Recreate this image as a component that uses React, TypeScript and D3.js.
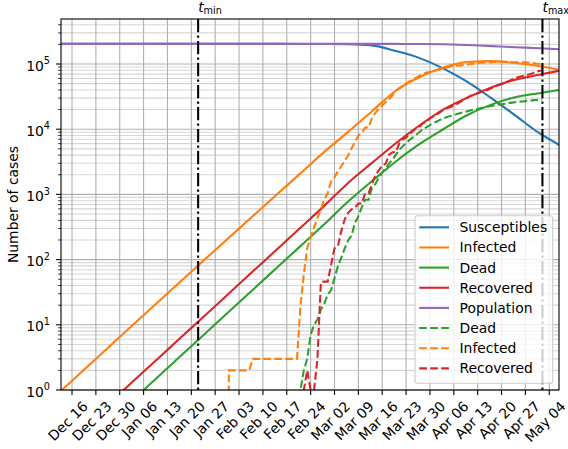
import React, { useEffect, useRef } from 'react';
import * as d3 from 'd3';

// ---------- model curves (weekly samples) ----------
const modelDates = ['2019-12-12','2019-12-13','2019-12-20','2019-12-27','2020-01-03','2020-01-10','2020-01-17','2020-01-24','2020-01-31','2020-02-07','2020-02-14','2020-02-21','2020-02-28','2020-03-06','2020-03-13','2020-03-20','2020-03-27','2020-04-03','2020-04-10','2020-04-17','2020-04-24','2020-05-01','2020-05-07'];
const susceptibles = [203500,203500,203500,203500,203500,203500,203500,203500,203500,203400,203300,203000,202300,200800,193000,158000,123000,85000,53000,29900,16300,8750,5720];
const infectedModel = [0.9,1.0,2.16,4.67,10.1,21.8,47.1,101,216,462,986,2100,4490,9100,18900,38900,63200,88400,107000,110800,103500,92900,80900];
const deadModel = [0.063,0.0703,0.152,0.33,0.716,1.55,3.37,7.3,15.8,34.3,74.3,161,349,776,1600,3200,5950,10070,16500,23800,31000,35700,39900];
const recoveredModel = [0.12,0.134,0.291,0.631,1.37,2.96,6.43,13.9,30.2,65.5,142,308,667,1500,3040,6100,11500,20200,30500,43700,57300,68300,78900];
const population = [203500,203500,203500,203500,203500,203500,203500,203500,203500,203500,203500,203500,203500,203500,203500,203300,202800,201200,195600,188200,181000,174700,168100];

// ---------- observed daily data, from obsStart ----------
const obsStart = '2020-01-22';
const obsDead = [0,0,0,0,0,0,0,0,0,0,0,0,0,0,0,0,0,0,0,0,0,0,0,0,0,0,0,0,0,0,
  1,2,3,7,10,12,17,21,29,
  34,52,79,107,148,197,233,366,463,631,827,827,1266,1441,1809,2158,2503,2978,3405,4032,4825,5476,6077,6820,7503,8215,9134,10023,10779,11591,12428,
  13155,13915,14681,15362,15887,16523,17127,17669,18279,18849,19468,19899,20465,21067,21645,22170,22745,23227,23660,24114,24648,25085,25549,25969,26384,26644,26977,27359,27682,27967,
  28236,28710];
const obsInfected = [0,0,0,0,0,0,0,0,0,
  2,2,2,2,2,2,2,
  3,3,3,3,3,3,3,3,3,3,3,3,3,3,
  19,59,150,221,311,438,593,821,1053,
  1577,1835,2263,2706,3296,3916,5061,6387,7985,8794,10590,10590,14955,17750,20603,23073,26062,28710,33190,38549,42681,46638,50418,54030,57521,62013,66414,70065,73880,75528,77635,
  80572,83049,85388,88274,91246,93187,94067,95262,96877,98273,100269,102253,103616,104291,105418,106607,106962,107771,108257,108237,107709,107699,106848,106527,105847,106103,105813,105205,104657,101551,
  100943,100704];
const obsRecovered = [0,0,0,0,0,0,0,0,0,0,0,0,0,0,0,0,0,0,0,0,0,0,0,0,0,0,0,0,0,0,0,
  1,2,1,1,3,45,46,46,
  83,149,160,276,414,523,589,622,724,724,1045,1045,1439,1966,2335,2749,2941,4025,4440,4440,6072,7024,7432,8326,9362,10361,10950,12384,13030,14620,15729,
  16847,18278,19758,20996,21815,22837,24392,26491,28470,30455,32534,34211,35435,37130,38092,40164,42727,44927,47055,48877,51600,54543,57576,60498,63120,64928,66624,68941,71252,75945,
  78249,79914];

const tMin = '2020-01-22';
const tMax = '2020-05-02';
const xTickFirst = '2019-12-16';
const xTickLast = '2020-05-04';
const xDomain = ['2019-12-12T18:29:00Z', '2020-05-06T20:38:00Z'];
const yDomain = [1, 4.9e5];
const yTickExps = [0, 1, 2, 3, 4, 5];

const legendLabels = ['Susceptibles','Infected','Dead','Recovered','Population','Dead','Infected','Recovered'];
const legendColors = ['#1f77b4','#ff7f0e','#2ca02c','#d62728','#9467bd','#2ca02c','#ff7f0e','#d62728'];
const legendDashed = [false,false,false,false,false,true,true,true];

const W = 568, H = 449;
const L = 61, R = 559, T = 19, B = 390;
const FS = 13.9;
const FONT = 'DejaVu Sans';

const parseDay = (s: string) => new Date(s + 'T00:00:00Z');
const DAY = 86400000;

function draw(el: SVGSVGElement) {
  const svg = d3.select(el);
  svg.selectAll('*').remove();

  const x = d3.scaleUtc().domain(xDomain.map(s => new Date(s))).range([L, R]);
  const y = d3.scaleLog().domain(yDomain).range([B, T]);

  const defs = svg.append('defs');
  defs.append('clipPath').attr('id', 'plotclip').append('rect')
    .attr('x', L).attr('y', T).attr('width', R - L).attr('height', B - T);

  svg.append('rect').attr('width', W).attr('height', H).attr('fill', '#fff');

  // ticks
  const xTicks: Date[] = [];
  for (let t = parseDay(xTickFirst).getTime(); t <= parseDay(xTickLast).getTime(); t += 7 * DAY) xTicks.push(new Date(t));
  const majorY = yTickExps.map(k => Math.pow(10, k));
  const minorY: number[] = [];
  yTickExps.forEach(k => { for (let m = 2; m <= 9; m++) { const v = m * Math.pow(10, k); if (v <= yDomain[1]) minorY.push(v); } });

  const grid = svg.append('g');
  minorY.forEach(v => grid.append('line').attr('x1', L).attr('x2', R).attr('y1', y(v)).attr('y2', y(v))
    .attr('stroke', '#d6d6d6').attr('stroke-width', 1.1));
  majorY.forEach(v => grid.append('line').attr('x1', L).attr('x2', R).attr('y1', y(v)).attr('y2', y(v))
    .attr('stroke', '#b0b0b0').attr('stroke-width', 1.1));
  xTicks.forEach(d => grid.append('line').attr('x1', x(d)).attr('x2', x(d)).attr('y1', T).attr('y2', B)
    .attr('stroke', '#b0b0b0').attr('stroke-width', 1.1));

  const plot = svg.append('g').attr('clip-path', 'url(#plotclip)');
  const safe = (v: number) => (v > 0 ? v : 1e-30);

  const modelLine = d3.line<[Date, number]>().x(d => x(d[0])).y(d => y(safe(d[1]))).curve(d3.curveMonotoneX);
  const obsLine = d3.line<[Date, number]>().x(d => x(d[0])).y(d => y(safe(d[1])));

  const mDates = modelDates.map(parseDay);
  const models: [number[], string][] = [
    [susceptibles, '#1f77b4'], [infectedModel, '#ff7f0e'], [deadModel, '#2ca02c'],
    [recoveredModel, '#d62728'], [population, '#9467bd'],
  ];
  models.forEach(([vals, c]) => {
    plot.append('path').attr('d', modelLine(vals.map((v, i) => [mDates[i], v]))!)
      .attr('fill', 'none').attr('stroke', c).attr('stroke-width', 2.08).attr('stroke-linejoin', 'round');
  });

  const o0 = parseDay(obsStart).getTime();
  const obs: [number[], string][] = [[obsDead, '#2ca02c'], [obsInfected, '#ff7f0e'], [obsRecovered, '#d62728']];
  obs.forEach(([vals, c]) => {
    plot.append('path').attr('d', obsLine(vals.map((v, i) => [new Date(o0 + i * DAY), v]))!)
      .attr('fill', 'none').attr('stroke', c).attr('stroke-width', 2.08)
      .attr('stroke-dasharray', '7.7,3.3');
  });

  // t_min / t_max vertical lines
  [tMin, tMax].forEach(s => {
    const xx = x(parseDay(s));
    plot.append('line').attr('x1', xx).attr('x2', xx).attr('y1', T).attr('y2', B)
      .attr('stroke', '#000').attr('stroke-width', 2.08).attr('stroke-dasharray', '13.3,3.3,2.1,3.3');
  });

  // spines
  svg.append('rect').attr('x', L).attr('y', T).attr('width', R - L).attr('height', B - T)
    .attr('fill', 'none').attr('stroke', '#000').attr('stroke-width', 1.1);

  // x ticks + labels
  const fmt = d3.utcFormat('%b %d');
  const c = Math.SQRT1_2;
  const a = 10.4, dsc = 3.2;
  const top = B + 4.9 + 4.9;
  xTicks.forEach(d => {
    const tx = x(d);
    svg.append('line').attr('x1', tx).attr('x2', tx).attr('y1', B).attr('y2', B + 4.9)
      .attr('stroke', '#000').attr('stroke-width', 1.1);
    const t = svg.append('text').text(fmt(d)).attr('text-anchor', 'end')
      .style('font-family', FONT).style('font-size', FS + 'px').attr('fill', '#000');
    const w = (t.node() as SVGTextElement).getComputedTextLength();
    const x0 = tx + c * (w + a - dsc) / 2 - 3.2;
    const y0 = top + c * a;
    t.attr('transform', `translate(${x0},${y0}) rotate(-45)`);
  });

  // y ticks + labels
  minorY.forEach(v => svg.append('line').attr('x1', L - 2.8).attr('x2', L).attr('y1', y(v)).attr('y2', y(v))
    .attr('stroke', '#000').attr('stroke-width', 0.83));
  yTickExps.forEach(k => {
    const v = Math.pow(10, k);
    svg.append('line').attr('x1', L - 4.9).attr('x2', L).attr('y1', y(v)).attr('y2', y(v))
      .attr('stroke', '#000').attr('stroke-width', 1.1);
    const t = svg.append('text').attr('x', 50).attr('y', y(v) + 6.5).attr('text-anchor', 'end')
      .style('font-family', FONT).style('font-size', FS + 'px').attr('fill', '#000');
    t.append('tspan').text('10');
    t.append('tspan').attr('dy', -6.3).style('font-size', '9.7px').text(String(k));
  });

  // y axis label
  svg.append('text').text('Number of cases')
    .attr('transform', `translate(18.3,${(T + B) / 2}) rotate(-90)`)
    .attr('text-anchor', 'middle').style('font-family', FONT).style('font-size', FS + 'px').attr('fill', '#000');

  // t labels
  ([[tMin, 'min'], [tMax, 'max']] as [string, string][]).forEach(([s, sub]) => {
    const xx = x(parseDay(s));
    const t = svg.append('text').attr('x', xx).attr('y', 11.7)
      .style('font-family', FONT).style('font-size', FS + 'px').attr('fill', '#000');
    t.append('tspan').style('font-style', 'italic').text('t');
    t.append('tspan').attr('dy', 2.2).style('font-size', '9.7px').text(sub);
  });

  // legend
  const lg = svg.append('g');
  lg.append('rect').attr('x', 415).attr('y', 215.7).attr('width', 137.7).attr('height', 167.6)
    .attr('rx', 2.8).attr('fill', '#fff').attr('fill-opacity', 0.8)
    .attr('stroke', '#cccccc').attr('stroke-width', 1.1);
  legendLabels.forEach((lab, i) => {
    const yy = 227.3 + i * 20.15;
    lg.append('line').attr('x1', 419.2).attr('x2', 449).attr('y1', yy).attr('y2', yy)
      .attr('stroke', legendColors[i]).attr('stroke-width', 2.08)
      .attr('stroke-dasharray', legendDashed[i] ? '7.7,3.3' : null);
    lg.append('text').text(lab).attr('x', 459.5).attr('y', yy + 5)
      .style('font-family', FONT).style('font-size', FS + 'px').attr('fill', '#000');
  });
}

export default function App() {
  const ref = useRef<SVGSVGElement>(null);
  useEffect(() => {
    if (ref.current) draw(ref.current);
  }, []);
  return (
    <svg ref={ref} width={W} height={H}
      style={{ position: 'absolute', left: 0, top: 0, display: 'block', background: '#fff' }} />
  );
}
